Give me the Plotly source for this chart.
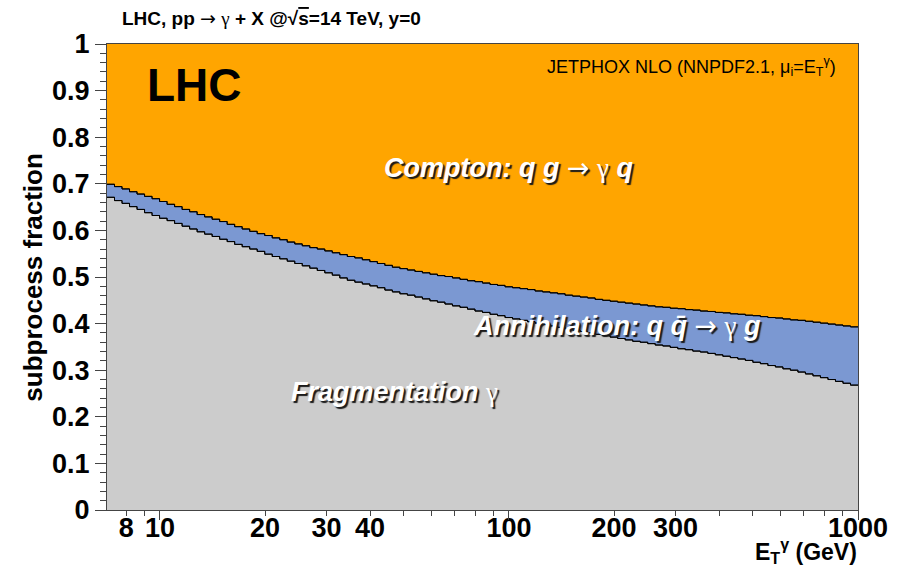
import numpy as np
import plotly.graph_objects as go

# ---- data: subprocess fractions in 100 log-spaced bins of E_T^gamma (7.05 - 1000 GeV)
e_min, e_max, n_bins = 7.05, 1000.0, 100

fragmentation = [
    0.671, 0.664, 0.658, 0.651, 0.645, 0.638, 0.632, 0.626, 0.621, 0.615,
    0.609, 0.603, 0.597, 0.592, 0.587, 0.581, 0.576, 0.570, 0.565, 0.560,
    0.555, 0.549, 0.544, 0.539, 0.534, 0.529, 0.524, 0.519, 0.514, 0.509,
    0.504, 0.498, 0.493, 0.489, 0.485, 0.481, 0.477, 0.472, 0.468, 0.464,
    0.461, 0.457, 0.453, 0.449, 0.446, 0.442, 0.438, 0.435, 0.431, 0.427,
    0.424, 0.420, 0.417, 0.413, 0.410, 0.407, 0.404, 0.401, 0.398, 0.395,
    0.392, 0.389, 0.386, 0.383, 0.380, 0.377, 0.374, 0.371, 0.368, 0.365,
    0.362, 0.360, 0.357, 0.354, 0.352, 0.349, 0.346, 0.344, 0.341, 0.339,
    0.336, 0.333, 0.330, 0.327, 0.324, 0.321, 0.317, 0.314, 0.310, 0.307,
    0.303, 0.300, 0.296, 0.292, 0.288, 0.284, 0.280, 0.276, 0.272, 0.268,
]
annihilation = [
    0.028, 0.030, 0.031, 0.032, 0.033, 0.035, 0.036, 0.036, 0.035, 0.036,
    0.036, 0.037, 0.037, 0.037, 0.037, 0.038, 0.037, 0.038, 0.038, 0.038,
    0.038, 0.040, 0.040, 0.041, 0.041, 0.042, 0.043, 0.044, 0.046, 0.047,
    0.048, 0.050, 0.051, 0.052, 0.052, 0.052, 0.052, 0.053, 0.053, 0.054,
    0.054, 0.055, 0.056, 0.057, 0.057, 0.059, 0.060, 0.060, 0.061, 0.063,
    0.063, 0.064, 0.065, 0.066, 0.067, 0.068, 0.069, 0.069, 0.070, 0.071,
    0.072, 0.072, 0.073, 0.074, 0.075, 0.075, 0.076, 0.077, 0.078, 0.079,
    0.080, 0.080, 0.081, 0.082, 0.083, 0.084, 0.086, 0.086, 0.088, 0.088,
    0.090, 0.091, 0.093, 0.094, 0.096, 0.097, 0.100, 0.101, 0.103, 0.105,
    0.107, 0.108, 0.111, 0.113, 0.115, 0.117, 0.119, 0.121, 0.123, 0.125,
]
compton = [
    0.301, 0.306, 0.311, 0.317, 0.322, 0.327, 0.332, 0.338, 0.344, 0.349,
    0.355, 0.360, 0.366, 0.371, 0.376, 0.381, 0.387, 0.392, 0.397, 0.402,
    0.407, 0.411, 0.416, 0.420, 0.425, 0.429, 0.433, 0.437, 0.440, 0.444,
    0.448, 0.452, 0.456, 0.459, 0.463, 0.467, 0.471, 0.475, 0.479, 0.482,
    0.485, 0.488, 0.491, 0.494, 0.497, 0.499, 0.502, 0.505, 0.508, 0.510,
    0.513, 0.516, 0.518, 0.521, 0.523, 0.525, 0.527, 0.530, 0.532, 0.534,
    0.536, 0.539, 0.541, 0.543, 0.545, 0.548, 0.550, 0.552, 0.554, 0.556,
    0.558, 0.560, 0.562, 0.564, 0.565, 0.567, 0.568, 0.570, 0.571, 0.573,
    0.574, 0.576, 0.577, 0.579, 0.580, 0.582, 0.583, 0.585, 0.587, 0.588,
    0.590, 0.592, 0.593, 0.595, 0.597, 0.599, 0.601, 0.603, 0.605, 0.607,
]

x_tick_vals = [8, 10, 20, 30, 40, 100, 200, 300, 1000]
x_tick_text = ["8", "10", "20", "30", "40", "100", "200", "300", "1000"]
x_minor_vals = [9, 50, 60, 70, 80, 90, 400, 500, 600, 700, 800, 900]
x_major_vals = [10, 100, 1000]

# ---- build stacked step histograms
edges = np.geomspace(e_min, e_max, n_bins + 1)
frag = np.array(fragmentation)
ann = np.array(annihilation)
comp = np.array(compton)
lvl1 = frag
lvl2 = frag + ann
lvl3 = frag + ann + comp


def stepy(v):
    return list(v) + [v[-1]]


FONT = "Liberation Sans, Arial, Helvetica, sans-serif"
GRAY = "#cccccc"
BLUE = "#7b98d2"
ORANGE = "#ffa500"

fig = go.Figure()
fig.add_trace(go.Scatter(x=edges, y=stepy(lvl1), mode="lines", line=dict(shape="hv", color="black", width=1),
                         fill="tozeroy", fillcolor=GRAY, hoverinfo="skip", showlegend=False))
fig.add_trace(go.Scatter(x=edges, y=stepy(lvl2), mode="lines", line=dict(shape="hv", color="black", width=1),
                         fill="tonexty", fillcolor=BLUE, hoverinfo="skip", showlegend=False))
fig.add_trace(go.Scatter(x=edges, y=stepy(lvl3), mode="lines", line=dict(shape="hv", color=ORANGE, width=0),
                         fill="tonexty", fillcolor=ORANGE, hoverinfo="skip", showlegend=False))
# re-draw boundary lines on top
fig.add_trace(go.Scatter(x=edges, y=stepy(lvl1), mode="lines", line=dict(shape="hv", color="black", width=1),
                         hoverinfo="skip", showlegend=False))
fig.add_trace(go.Scatter(x=edges, y=stepy(lvl2), mode="lines", line=dict(shape="hv", color="black", width=1),
                         hoverinfo="skip", showlegend=False))
# invisible trace for overlay axis carrying longer decade ticks
fig.add_trace(go.Scatter(x=edges, y=stepy(lvl1), mode="lines", line=dict(width=0), opacity=0,
                         xaxis="x2", hoverinfo="skip", showlegend=False))

xr = [np.log10(e_min), np.log10(e_max)]
AXC = "#444444"
fig.update_layout(
    width=900, height=570,
    margin=dict(l=107, r=42, t=44, b=60),
    paper_bgcolor="white", plot_bgcolor="white",
    font=dict(family=FONT, color="black"),
    xaxis=dict(type="log", range=xr, showgrid=False, zeroline=False,
               showline=True, linecolor=AXC, linewidth=1, mirror=True,
               tickmode="array", tickvals=x_tick_vals, ticktext=x_tick_text,
               ticks="outside", ticklen=5, tickcolor=AXC, tickwidth=1,
               ticklabelstandoff=-11,
               tickfont=dict(family=FONT, size=27, weight="bold", color="black"),
               minor=dict(tickmode="array", tickvals=x_minor_vals, ticks="outside",
                          ticklen=5, tickcolor=AXC, showgrid=False)),
    xaxis2=dict(type="log", range=xr, overlaying="x", anchor="y", side="bottom",
                showgrid=False, zeroline=False, showline=False,
                tickmode="array", tickvals=x_major_vals, ticks="outside", ticklen=9,
                tickcolor=AXC, showticklabels=False),
    yaxis=dict(range=[0, 1], showgrid=False, zeroline=False,
               showline=True, linecolor=AXC, linewidth=1, mirror=True,
               tickmode="linear", tick0=0, dtick=0.1,
               ticks="outside", ticklen=11, tickcolor=AXC, tickwidth=1,
               tickfont=dict(family=FONT, size=27, weight="bold", color="black"),
               minor=dict(dtick=0.02, tick0=0, ticks="outside", ticklen=6, tickcolor=AXC, showgrid=False)),
)

ARROW = "<span style='font-family:DejaVu Sans;font-weight:normal;font-style:normal'>\u2192</span>"
GAMMA = "<span style='font-family:Liberation Serif;font-weight:normal;font-style:normal'>\u03b3</span>"
shadow = "2px 2px 1px #1a1a1a"
anns = [
    dict(text="LHC, pp " + ARROW + " " + GAMMA + " + X @\u221a<span style='text-decoration:overline'>s</span>=14 TeV, y=0",
         x=0.017, y=1.056, xanchor="left", yanchor="middle",
         font=dict(size=19, weight="bold", color="black")),
    dict(text="LHC", x=0.050, y=0.912, xanchor="left", yanchor="middle",
         font=dict(size=46, weight="bold", color="black")),
    dict(text="JETPHOX NLO (NNPDF2.1, \u03bc<sub>i</sub>=E<sub>T</sub><sup>\u03b3</sup>)", x=0.974, y=0.951,
         xanchor="right", yanchor="middle", font=dict(size=18, color="black")),
    dict(text="Compton: q g " + ARROW + " " + GAMMA + " q", x=0.535, y=0.736, xanchor="center", yanchor="middle",
         font=dict(size=27, weight="bold", style="italic", color="white", shadow=shadow)),
    dict(text="Annihilation: q q\u0304 " + ARROW + " " + GAMMA + " g", x=0.679, y=0.395, xanchor="center", yanchor="middle",
         font=dict(size=27, weight="bold", style="italic", color="white", shadow=shadow)),
    dict(text="Fragmentation " + GAMMA, x=0.383, y=0.253, xanchor="center", yanchor="middle",
         font=dict(size=27, weight="bold", style="italic", color="white", shadow=shadow)),
    dict(text="subprocess fraction", x=-0.099, y=0.50, xanchor="center", yanchor="middle", textangle=-90,
         font=dict(size=26, weight="bold", color="black")),
    dict(text="E<sub>T</sub><sup>\u03b3</sup> (GeV)", x=1.0, y=-0.1245, xanchor="right", yanchor="bottom",
         borderpad=0, font=dict(size=23, weight="bold", color="black")),
]
for a in anns:
    a.update(xref="paper", yref="paper", showarrow=False)
fig.update_layout(annotations=anns)

fig.write_html("out.html")
